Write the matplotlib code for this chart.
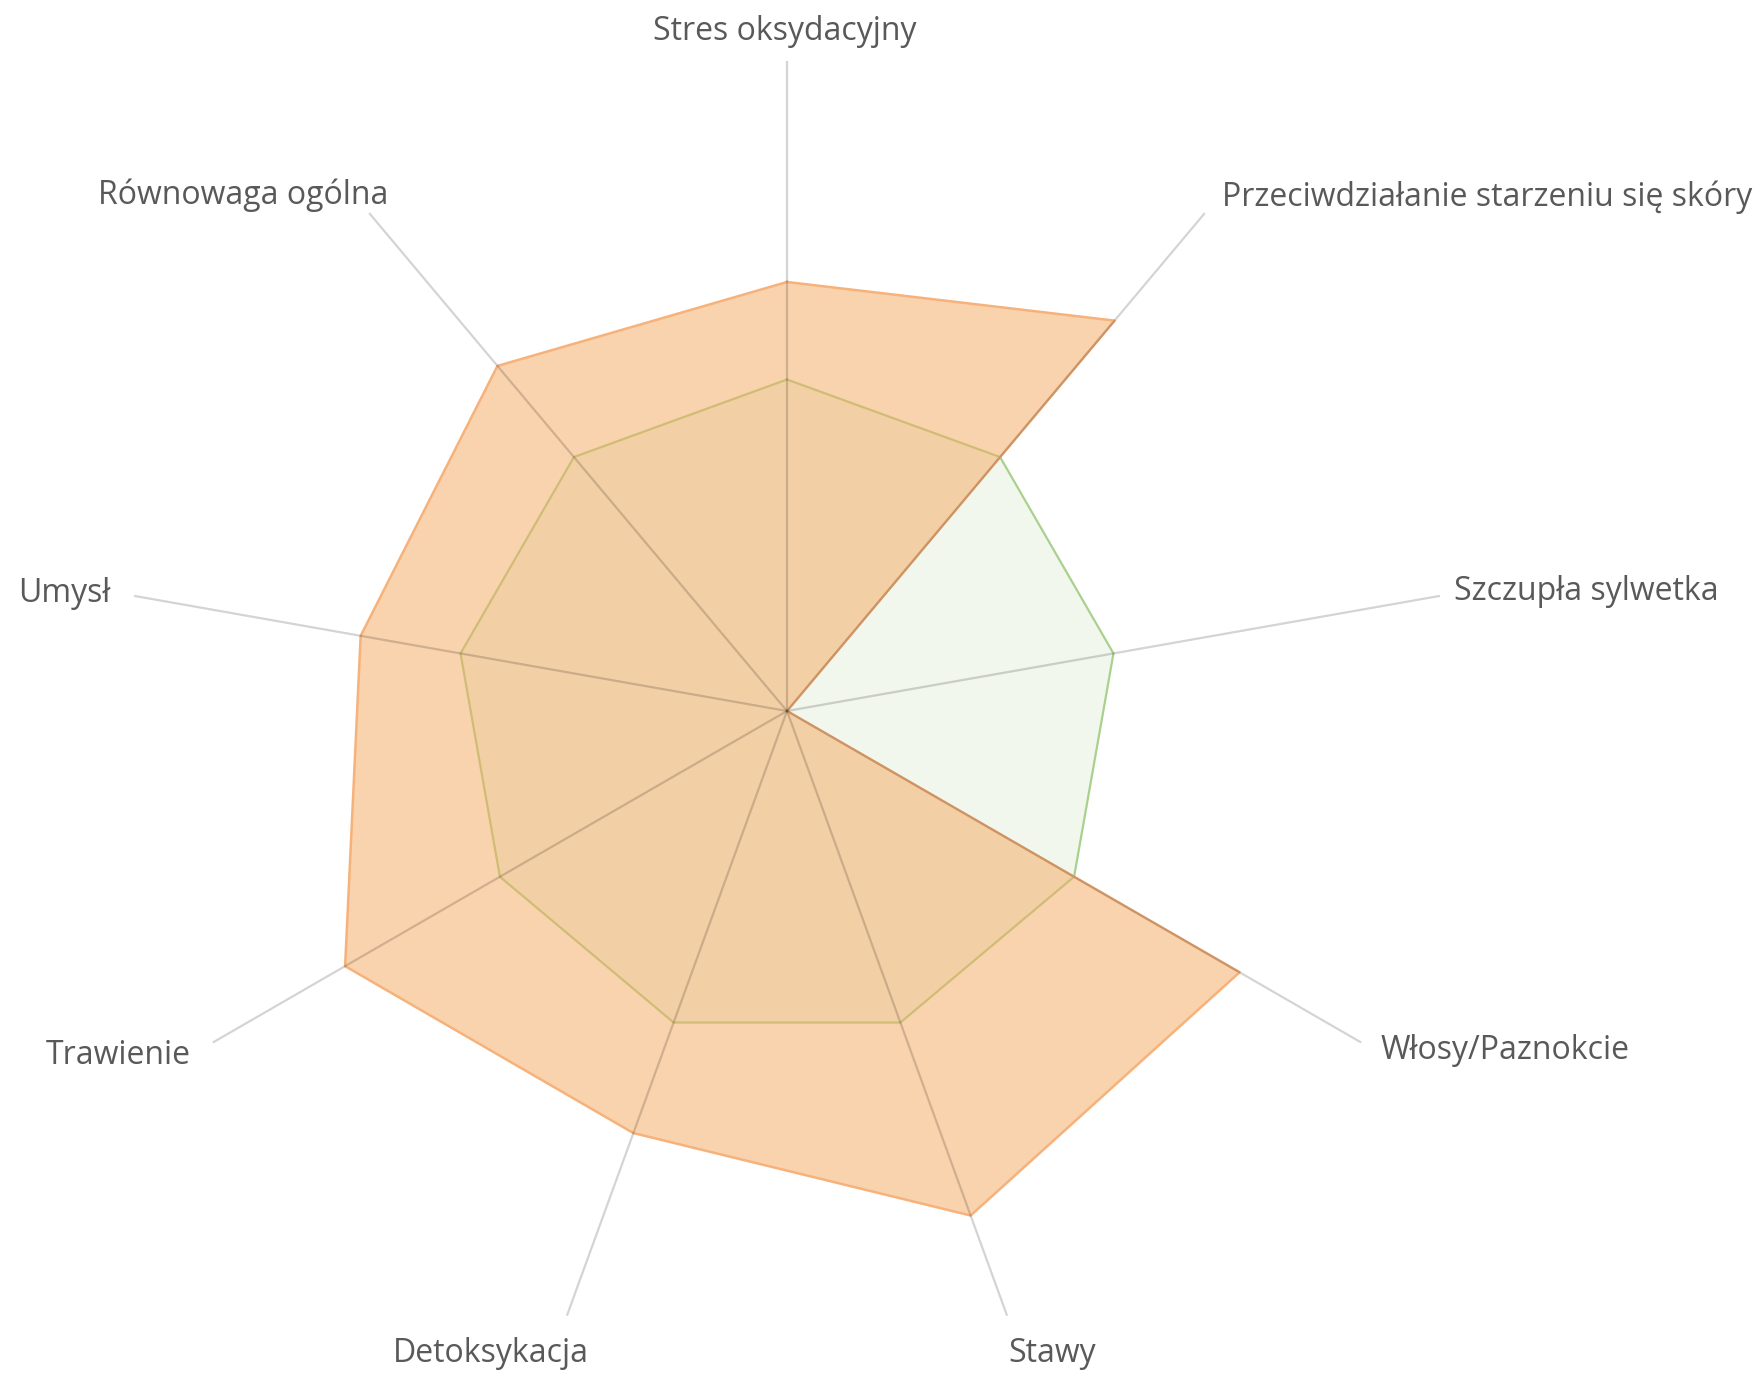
import numpy as np
import matplotlib
matplotlib.use("Agg")
import matplotlib.pyplot as plt

categories = ["Stres oksydacyjny", "Przeciwdziałanie starzeniu się skóry", "Szczupła sylwetka",
              "Włosy/Paznokcie", "Stawy", "Detoksykacja", "Trawienie", "Umysł", "Równowaga ogólna"]
series_green = [51, 51, 51, 51, 51, 51, 51, 51, 51]
series_orange = [66, 78.4, 0, 80.4, 82.6, 69.1, 78.5, 66.6, 69.3]
r_max = 100

# label offsets (pixels) from axis end, with alignment
label_style = [
    ((-2, 29.5), "center", "center"),
    ((17, 15.5), "left", "center"),
    ((27, 6.5), "left", "center"),
    ((31, -14.5), "left", "center"),
    ((43, -31.5), "center", "center"),
    ((-74, -31.5), "center", "center"),
    ((-33, -19.5), "right", "center"),
    ((-36, 4.5), "right", "center"),
    ((19, 17.5), "right", "center"),
]
# drawn spoke lengths (fraction of radius)
spoke_len = [1.0, 1.0, 1.02, 1.02, 0.99, 0.99, 1.02, 1.02, 1.0]

W, H = 1763, 1373
fig = plt.figure(figsize=(W / 100, H / 100), dpi=100)
cx, cy, R = 787, 711, 650
ax = fig.add_axes([(cx - R) / W, (H - cy - R) / H, 2 * R / W, 2 * R / H], projection="polar")
ax.set_theta_zero_location("N")
ax.set_theta_direction(-1)
n = len(categories)
theta = np.linspace(0, 2 * np.pi, n, endpoint=False)

def closed(v):
    return np.concatenate([v, v[:1]])

tg = closed(theta)
ax.fill(tg, closed(np.array(series_green, float)), color="#70AD47", alpha=0.09, zorder=2, lw=0)
ax.plot(tg, closed(np.array(series_green, float)), color="#A9D18E", lw=1.6, zorder=3)
ax.fill(tg, closed(np.array(series_orange, float)), color="#F5A95E", alpha=0.5, zorder=4, lw=0)
ax.plot(tg, closed(np.array(series_orange, float)), color="#F6B27A", lw=1.8, zorder=5)

for t, sl in zip(theta, spoke_len):
    ax.plot([t, t], [0, r_max * sl], color="black", alpha=0.17, lw=1.6, zorder=6,
            solid_capstyle="butt", clip_on=False)

ax.set_ylim(0, r_max)
ax.set_xticks([])
ax.set_yticks([])
ax.grid(False)
ax.spines["polar"].set_visible(False)
ax.patch.set_alpha(0)

for t, lab, (off, ha, va) in zip(theta, categories, label_style):
    ax.annotate(lab, xy=(t, r_max), xytext=off, textcoords="offset pixels",
                ha=ha, va=va, fontsize=23, color="#595959", family=["Open Sans", "DejaVu Sans"])

fig.savefig("out.png", dpi=100)
